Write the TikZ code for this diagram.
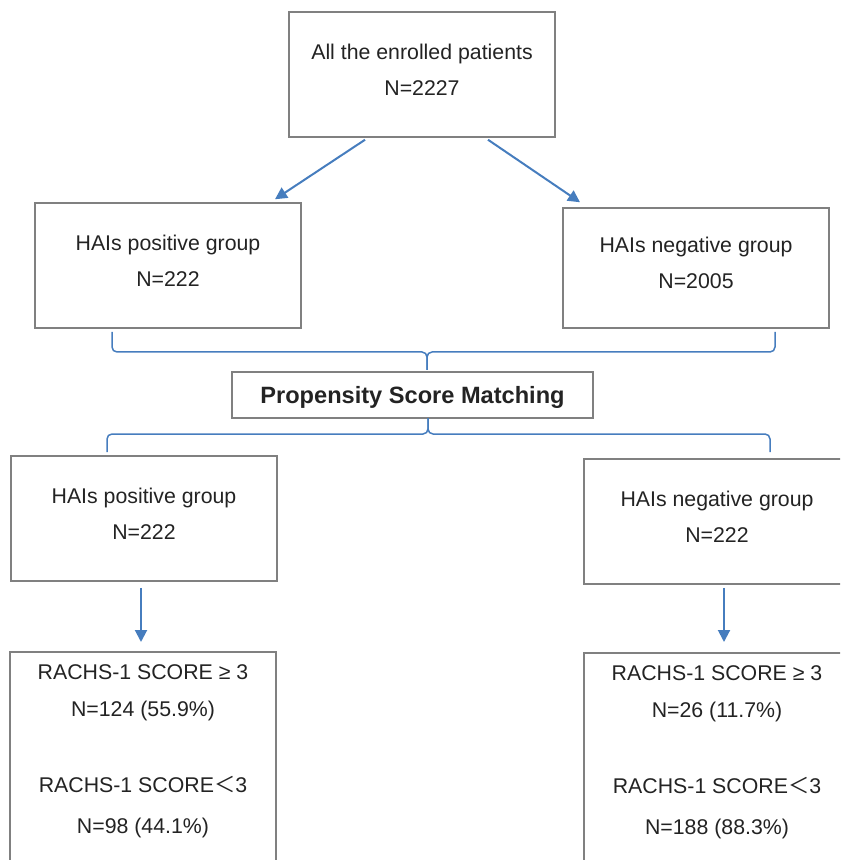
\documentclass[tikz,border=0pt]{standalone}
\usepackage{fontspec}
\setmainfont{Liberation Sans}
\newfontfamily\cjk{Noto Sans CJK SC}
\usetikzlibrary{calc,arrows.meta}

\definecolor{boxgray}{RGB}{128,128,128}
\definecolor{lineblue}{RGB}{70,125,190}
\definecolor{textdark}{RGB}{35,35,35}

\tikzset{
  box/.style={draw=boxgray, line width=0.75pt, text=textdark, minimum width=133pt,
    minimum height=62.5pt, inner sep=0pt, align=center, text depth=5pt,
    font=\fontsize{10.65}{18}\selectfont},
  scorebox/.style={box, anchor=north, minimum height=0pt, inner ysep=6.4pt,
    text depth=100pt, font=\fontsize{10.65}{18.5}\selectfont},
  psm/.style={draw=boxgray, line width=0.75pt, text=textdark, minimum width=180.5pt,
    minimum height=23pt, inner sep=0pt, text height=8.4pt, text depth=0pt,
    font=\bfseries\fontsize{11.8}{14}\selectfont},
  arr/.style={draw=lineblue, line width=1pt, -{Triangle[length=6pt,width=6pt]}},
  curly/.style={draw=lineblue, line width=0.75pt, rounded corners=2.5pt}
}

\begin{document}
\begin{tikzpicture}[x=0.5pt,y=-0.5pt]
  \useasboundingbox (0,0) rectangle (840,860);
  \clip (0,0) rectangle (840,860);

  % All patients
  \node[box] (all) at (422,74.5) {All the enrolled patients\\N=2227};

  % Groups before matching
  \node[box] (pos1) at (168,265.5) {HAIs positive group\\N=222};
  \node[box, minimum height=60pt] (neg1) at (696,268) {HAIs negative group\\N=2005};

  % Matching
  \node[psm] (psm) at (412.5,395) {Propensity Score Matching};

  % Groups after matching
  \node[box] (pos2) at (144,518.5) {HAIs positive group\\N=222};
  \node[box] (neg2) at (717,521.5) {HAIs negative group\\N=222};

  % RACHS-1 scores
  \node[scorebox] (pos3) at (143,651) {RACHS-1 SCORE ≥ 3\\N=124 (55.9\%)\\[19.5pt]
    RACHS-1 SCORE{\cjk ＜}3\\[2pt]N=98 (44.1\%)};
  \node[scorebox] (neg3) at (717,652) {RACHS-1 SCORE ≥ 3\\N=26 (11.7\%)\\[19.5pt]
    RACHS-1 SCORE{\cjk ＜}3\\[2pt]N=188 (88.3\%)};

  % Arrows
  \draw[arr] ($(all.south)+(-57,2)$) -- ($(pos1.north)+(107,-3)$);
  \draw[arr] ($(all.south)+(66,2)$) -- ($(neg1.north)+(-116,-5)$);
  \draw[arr] ($(pos2.south)+(-3,6)$) -- ($(pos3.north)+(-2,-9)$);
  \draw[arr] ($(neg2.south)+(7,3)$) -- ($(neg3.north)+(7,-10)$);

  % Upper brace
  \coordinate (up-l) at (112,332);
  \coordinate (up-r) at (775,332);
  \coordinate (up-tip) at (427,370);
  \draw[curly] (up-l) -- (112,352) -- (427,352) -- (up-tip);
  \draw[curly] (up-r) -- (775,352) -- (427,352) -- (up-tip);

  % Lower brace
  \coordinate (lo-l) at (107,452);
  \coordinate (lo-r) at (770,452);
  \coordinate (lo-tip) at (428,418);
  \draw[curly] (lo-l) -- (107,434) -- (428,434) -- (lo-tip);
  \draw[curly] (lo-r) -- (770,434) -- (428,434) -- (lo-tip);
\end{tikzpicture}
\end{document}
